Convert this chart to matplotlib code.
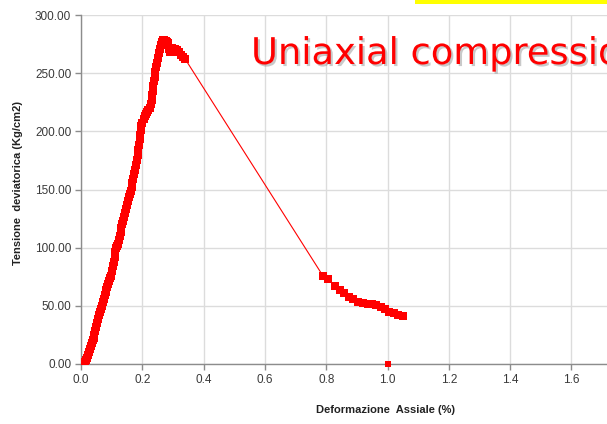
import matplotlib.pyplot as plt
import matplotlib.patheffects as pe
from matplotlib.patches import Rectangle

# Deformazione assiale (%) e tensione deviatorica (Kg/cm2)
strain = [
    0.000, 0.004, 0.008, 0.012, 0.016, 0.020, 0.023, 0.026, 0.029, 0.032,
    0.035, 0.038, 0.041, 0.044, 0.047, 0.050, 0.053, 0.056, 0.059, 0.062,
    0.065, 0.068, 0.071, 0.074, 0.077, 0.080, 0.083, 0.086, 0.089, 0.092,
    0.095, 0.098, 0.101, 0.104, 0.107, 0.110, 0.112, 0.114, 0.117, 0.120,
    0.123, 0.126, 0.129, 0.132, 0.135, 0.138, 0.141, 0.144, 0.147, 0.150,
    0.153, 0.156, 0.159, 0.162, 0.165, 0.168, 0.171, 0.174, 0.177, 0.180,
    0.183, 0.185, 0.187, 0.189, 0.191, 0.193, 0.195, 0.197, 0.200, 0.204,
    0.208, 0.212, 0.216, 0.220, 0.224, 0.227, 0.230, 0.232, 0.234, 0.236,
    0.238, 0.240, 0.243, 0.246, 0.249, 0.252, 0.255, 0.258, 0.261, 0.264,
    0.268, 0.272, 0.276, 0.280, 0.284, 0.288, 0.291, 0.294, 0.297, 0.300,
    0.304, 0.308, 0.312, 0.316, 0.320, 0.326, 0.332, 0.339,
    0.789, 0.805, 0.829, 0.845, 0.859, 0.874, 0.888, 0.905, 0.921, 0.937,
    0.948, 0.962, 0.978, 0.992, 1.006, 1.021, 1.035, 1.052,
]
stress = [
    0.0, 0.5, 1.0, 2.0, 3.5, 5.5, 8.0, 10.5, 13.0, 15.5,
    18.0, 20.5, 22.5, 25.0, 28.0, 31.5, 35.0, 38.5, 42.0, 45.0,
    47.5, 50.0, 53.0, 56.0, 59.0, 61.5, 64.0, 66.5, 69.0, 71.5,
    73.5, 76.0, 80.0, 84.0, 88.0, 92.0, 96.0, 99.5, 101.5, 103.0,
    106.5, 110.0, 113.5, 117.0, 120.0, 123.0, 126.0, 129.5, 133.0, 136.5,
    140.0, 143.5, 146.5, 149.0, 152.0, 155.5, 159.0, 163.0, 167.0, 171.0,
    175.0, 179.5, 184.0, 188.5, 193.0, 197.0, 201.0, 204.5, 207.5, 210.5,
    213.0, 215.0, 216.5, 218.0, 220.0, 223.5, 227.0, 231.0, 235.0, 239.0,
    243.0, 247.0, 251.0, 255.0, 259.0, 263.0, 267.0, 271.0, 274.5, 277.0,
    278.5, 278.5, 277.5, 276.5, 276.0, 271.0, 268.5, 270.0, 271.5, 271.0,
    270.5, 271.0, 269.5, 268.0, 268.0, 266.0, 264.0, 262.5,
    75.9, 72.8, 67.3, 63.6, 60.7, 57.9, 55.6, 53.6, 52.1, 51.6,
    51.9, 50.7, 49.3, 47.3, 45.0, 43.6, 41.9, 41.5,
]

# punto isolato a fine prova
end_strain = [1.0]
end_stress = [0.0]

y_ticks = [0, 50, 100, 150, 200, 250, 300]
x_ticks = [0.0, 0.2, 0.4, 0.6, 0.8, 1.0, 1.2, 1.4, 1.6]

fig = plt.figure(figsize=(6.07, 4.24), dpi=100)
ax = fig.add_axes([81 / 607, 1 - 364 / 424, 1 - 81 / 607, 349 / 424])

ax.plot(strain, stress, color='#ff0000', linewidth=0.8,
        marker='s', markersize=5.2, markeredgewidth=0, zorder=3)
ax.plot(end_strain, end_stress, linestyle='none', color='#ff0000',
        marker='s', markersize=4.6, markeredgewidth=0, zorder=3,
        clip_on=False)

ax.set_xlim(0, 1.716)
ax.set_ylim(0, 300)
ax.set_xticks(x_ticks)
ax.set_yticks(y_ticks)
ax.set_xticklabels([f'{v:.1f}' for v in x_ticks])
ax.set_yticklabels([f'{v:.2f}' for v in y_ticks])

ax.grid(True, color='#dcdcdc', linewidth=1.0)
ax.set_axisbelow(True)
for side in ['top', 'right']:
    ax.spines[side].set_visible(False)
for side in ['left', 'bottom']:
    ax.spines[side].set_color('#8c8c8c')
    ax.spines[side].set_linewidth(1.0)

ax.tick_params(axis='both', direction='out', length=4, width=1,
               color='#8c8c8c', labelsize=8.5, labelcolor='#3a3a3a',
               pad=3)
for lbl in ax.get_xticklabels() + ax.get_yticklabels():
    lbl.set_family('Liberation Sans')

ax.set_xlabel('Deformazione  Assiale (%)', fontsize=8, fontweight='bold',
              family='Liberation Sans', color='#222222')
ax.xaxis.set_label_coords((386 - 81) / 526, -41 / 349)
ax.set_ylabel('Tensione  deviatorica (Kg/cm2)', fontsize=8,
              fontweight='bold', family='Liberation Sans', color='#222222')
ax.yaxis.set_label_coords(-58 / 526, 0.52)

# titolo con ombra
fig.text(251 / 607, 1 - 64 / 424, 'Uniaxial compression', fontsize=26.5,
         color='#ff0000', va='baseline', ha='left',
         path_effects=[pe.withSimplePatchShadow(offset=(1.5, -1.5),
                                                shadow_rgbFace='#888888',
                                                alpha=0.45)])

# barra gialla in alto
fig.patches.append(Rectangle((415 / 607, 1 - 3.5 / 424), 192 / 607,
                             3.5 / 424, transform=fig.transFigure,
                             facecolor='#ffff00', edgecolor='none'))

fig.savefig('out.png', dpi=100)
